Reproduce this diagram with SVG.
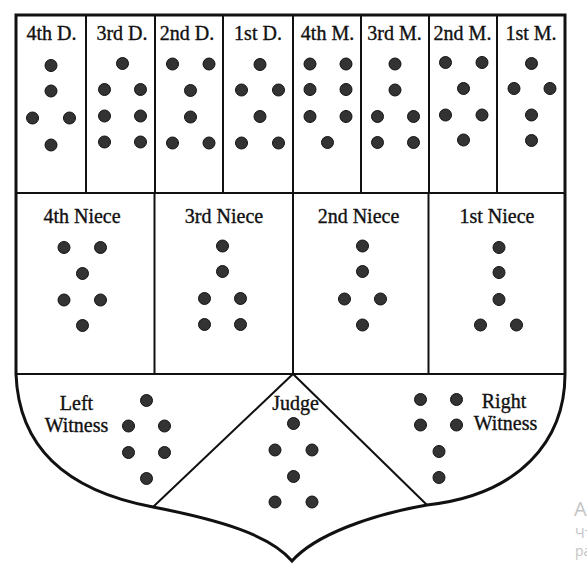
<svg xmlns="http://www.w3.org/2000/svg" width="587" height="573" viewBox="0 0 587 573">
<style>
.frame{fill:none;stroke:#111;stroke-width:3;stroke-linejoin:miter}
.ln{fill:none;stroke:#111;stroke-width:2}
.lbl{font-family:"Liberation Serif","Times New Roman",serif;font-size:20px;fill:#111;stroke:#111;stroke-width:0.35;text-anchor:middle}
.d{fill:#333;stroke:#111;stroke-width:1}
.wm{font-family:"Open Sans","Noto Sans",sans-serif;fill:#c4c4c4}
</style>
<rect width="587" height="573" fill="#fff"/>
<g id="connectors">
<path class="frame" d="M16,15 H565 V374 C565,440 520,495 427,505 C370,515 315,535 292,561 C270,535 220,520 153,507 Q20,482 16,374 Z"/>
<path class="ln" d="M86,15V193M155,15V193M223,15V193M293,15V193M361,15V193M429,15V193M497,15V193"/>
<path class="ln" d="M16,193H565M16,374H565M154.5,193V374M293,193V374M428.5,193V374"/>
<path class="ln" d="M153,507L293,374L427,505"/>
</g>
<g id="d4">
<text class="lbl" x="51.5" y="40">4th D.</text>
<circle class="d" cx="51" cy="65.5" r="6"/><circle class="d" cx="51" cy="91" r="6"/>
<circle class="d" cx="32.5" cy="118" r="6"/><circle class="d" cx="69.5" cy="118" r="6"/>
<circle class="d" cx="51" cy="145" r="6"/>
</g>
<g id="d3">
<text class="lbl" x="122" y="40">3rd D.</text>
<circle class="d" cx="122.5" cy="63.5" r="6"/>
<circle class="d" cx="104.5" cy="89.5" r="6"/><circle class="d" cx="140.5" cy="89.5" r="6"/>
<circle class="d" cx="104.5" cy="116" r="6"/><circle class="d" cx="140.5" cy="116" r="6"/>
<circle class="d" cx="104.5" cy="142" r="6"/><circle class="d" cx="140.5" cy="142" r="6"/>
</g>
<g id="d2">
<text class="lbl" x="187" y="40">2nd D.</text>
<circle class="d" cx="172.5" cy="64" r="6"/><circle class="d" cx="209" cy="64" r="6"/>
<circle class="d" cx="190.5" cy="90.5" r="6"/><circle class="d" cx="190.5" cy="117" r="6"/>
<circle class="d" cx="172.5" cy="143" r="6"/><circle class="d" cx="209" cy="143" r="6"/>
</g>
<g id="d1">
<text class="lbl" x="258" y="40">1st D.</text>
<circle class="d" cx="260" cy="64.5" r="6"/>
<circle class="d" cx="241.5" cy="90" r="6"/><circle class="d" cx="278.5" cy="90" r="6"/>
<circle class="d" cx="260" cy="116.5" r="6"/>
<circle class="d" cx="241.5" cy="143" r="6"/><circle class="d" cx="278.5" cy="143" r="6"/>
</g>
<g id="m4">
<text class="lbl" x="327.5" y="40">4th M.</text>
<circle class="d" cx="310" cy="64" r="6"/><circle class="d" cx="346" cy="64" r="6"/>
<circle class="d" cx="310" cy="89.5" r="6"/><circle class="d" cx="346" cy="89.5" r="6"/>
<circle class="d" cx="310" cy="116.5" r="6"/><circle class="d" cx="346" cy="116.5" r="6"/>
<circle class="d" cx="327.5" cy="142.5" r="6"/>
</g>
<g id="m3">
<text class="lbl" x="394.5" y="40">3rd M.</text>
<circle class="d" cx="395" cy="64" r="6"/><circle class="d" cx="395" cy="90" r="6"/>
<circle class="d" cx="377.5" cy="116.5" r="6"/><circle class="d" cx="413.5" cy="116.5" r="6"/>
<circle class="d" cx="377.5" cy="142.5" r="6"/><circle class="d" cx="413.5" cy="142.5" r="6"/>
</g>
<g id="m2">
<text class="lbl" x="462.5" y="40">2nd M.</text>
<circle class="d" cx="445.5" cy="62.5" r="6"/><circle class="d" cx="482" cy="62.5" r="6"/>
<circle class="d" cx="463.5" cy="88.5" r="6"/>
<circle class="d" cx="445.5" cy="115" r="6"/><circle class="d" cx="482" cy="115" r="6"/>
<circle class="d" cx="463.5" cy="140" r="6"/>
</g>
<g id="m1">
<text class="lbl" x="531" y="40">1st M.</text>
<circle class="d" cx="531.5" cy="63.5" r="6"/>
<circle class="d" cx="514" cy="88.5" r="6"/><circle class="d" cx="550" cy="88.5" r="6"/>
<circle class="d" cx="531.5" cy="115" r="6"/><circle class="d" cx="531.5" cy="140.5" r="6"/>
</g>
<g id="n4">
<text class="lbl" x="82" y="223">4th Niece</text>
<circle class="d" cx="64" cy="247.5" r="6"/><circle class="d" cx="100.5" cy="247.5" r="6"/>
<circle class="d" cx="82.5" cy="273.5" r="6"/>
<circle class="d" cx="64" cy="300" r="6"/><circle class="d" cx="100.5" cy="300" r="6"/>
<circle class="d" cx="82.5" cy="325.5" r="6"/>
</g>
<g id="n3">
<text class="lbl" x="224" y="222.5">3rd Niece</text>
<circle class="d" cx="222.5" cy="246" r="6"/><circle class="d" cx="222.5" cy="271.5" r="6"/>
<circle class="d" cx="204.5" cy="298.5" r="6"/><circle class="d" cx="240.5" cy="298.5" r="6"/>
<circle class="d" cx="204.5" cy="324.5" r="6"/><circle class="d" cx="240.5" cy="324.5" r="6"/>
</g>
<g id="n2">
<text class="lbl" x="358.5" y="222.5">2nd Niece</text>
<circle class="d" cx="362.5" cy="246" r="6"/><circle class="d" cx="362.5" cy="271.5" r="6"/>
<circle class="d" cx="344.5" cy="299" r="6"/><circle class="d" cx="380.5" cy="299" r="6"/>
<circle class="d" cx="362.5" cy="325" r="6"/>
</g>
<g id="n1">
<text class="lbl" x="497" y="222.5">1st Niece</text>
<circle class="d" cx="499" cy="247.5" r="6"/><circle class="d" cx="499" cy="272.5" r="6"/>
<circle class="d" cx="499" cy="299.5" r="6"/>
<circle class="d" cx="480.5" cy="325" r="6"/><circle class="d" cx="516.5" cy="325" r="6"/>
</g>
<g id="leftWitness">
<text class="lbl" x="76.5" y="410">Left</text>
<text class="lbl" x="76.5" y="431.5">Witness</text>
<circle class="d" cx="146.5" cy="400.5" r="6"/>
<circle class="d" cx="128.5" cy="426" r="6"/><circle class="d" cx="164.5" cy="426" r="6"/>
<circle class="d" cx="128.5" cy="452.5" r="6"/><circle class="d" cx="164.5" cy="452.5" r="6"/>
<circle class="d" cx="146.5" cy="478.5" r="6"/>
</g>
<g id="judge">
<text class="lbl" x="295.5" y="410">Judge</text>
<circle class="d" cx="293.5" cy="423.5" r="6"/>
<circle class="d" cx="275" cy="450" r="6"/><circle class="d" cx="312" cy="450" r="6"/>
<circle class="d" cx="293.5" cy="476.5" r="6"/>
<circle class="d" cx="275" cy="502" r="6"/><circle class="d" cx="312" cy="502" r="6"/>
</g>
<g id="rightWitness">
<text class="lbl" x="504" y="408">Right</text>
<text class="lbl" x="505.5" y="429.5">Witness</text>
<circle class="d" cx="420.5" cy="399.5" r="6"/><circle class="d" cx="456.5" cy="399.5" r="6"/>
<circle class="d" cx="420.5" cy="425" r="6"/><circle class="d" cx="456.5" cy="425" r="6"/>
<circle class="d" cx="439" cy="451.5" r="6"/><circle class="d" cx="439" cy="477.5" r="6"/>
</g>
<g id="watermark">
<text class="wm" x="574" y="516" font-size="20">A</text>
<text class="wm" x="575" y="538" font-size="14">Чт</text>
<text class="wm" x="575" y="556" font-size="14">ра</text>
</g>
</svg>
